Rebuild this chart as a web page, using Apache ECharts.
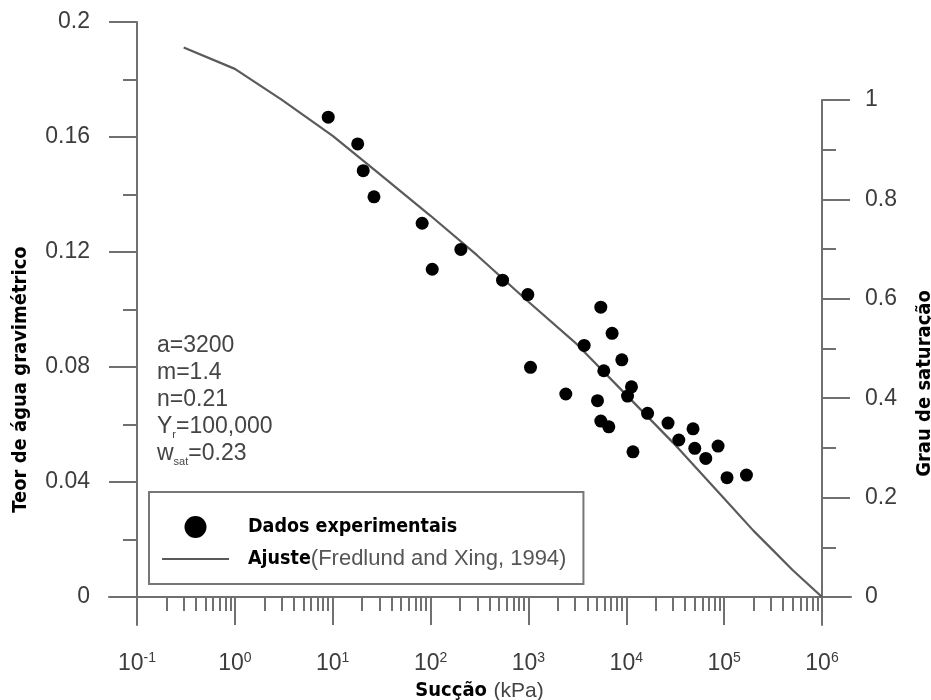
<!DOCTYPE html>
<html>
<head>
<meta charset="utf-8">
<title>Curva característica</title>
<script src="https://cdn.jsdelivr.net/npm/echarts@6/dist/echarts.min.js"></script>
<style>
  html, body { margin: 0; padding: 0; background: #fff; }
  #chart { width: 931px; height: 700px; }
</style>
</head>
<body>
<div id="chart"></div>
<script>
// Experimental points: suction (kPa) and gravimetric water content
const psiData = [9.0, 18, 20.5, 26.4, 82, 204, 104, 544, 986, 5490, 7160, 3710, 1050, 9000, 5890,
  11300, 10300, 2410, 5080, 16500, 5490, 6630, 26700, 48100, 34400, 50100, 86700, 64900, 11700,
  107000, 169000];
const wData = [0.1669, 0.1576, 0.1483, 0.1392, 0.1300, 0.1209, 0.1140, 0.1102, 0.1052, 0.1008,
  0.0917, 0.0875, 0.0799, 0.0825, 0.0787, 0.0731, 0.0699, 0.0706, 0.0683, 0.0639, 0.0612, 0.0592,
  0.0605, 0.0585, 0.0546, 0.0517, 0.0525, 0.0482, 0.0505, 0.0415, 0.0424];

// Fitted curve (Fredlund and Xing, 1994)
const psiCurve = [0.3, 1, 3, 10, 30, 100, 300, 1000, 3000, 10000, 30000, 100000, 200000, 300000, 500000, 1000000];
const wCurve = [0.1911, 0.1837, 0.1730, 0.1604, 0.1472, 0.1326, 0.1188, 0.1027, 0.0885, 0.0703,
  0.0537, 0.0343, 0.0230, 0.0170, 0.0094, 0];

// Axis ranges and ticks
const xMin = 0.1, xMax = 1e6;
const wMin = 0, wMax = 0.2, wStep = 0.04;
const srMin = 0, srMax = 1, srStep = 0.2;
const minorFactors = [2, 3, 4, 5, 6, 7, 8, 9];

// Fit parameters shown on the plot
const fitLines = ['a=3200', 'm=1.4', 'n=0.21'];

const minorLogTicks = [];
for (let e = Math.log10(xMin); e < Math.log10(xMax); e++) {
  minorFactors.forEach(f => minorLogTicks.push(e + Math.log10(f)));
}

const AX = '#707070';
const LBL = '#3c3c3c';
const NARROW = "'DejaVu Sans Condensed', 'Liberation Sans Narrow', sans-serif";
const SANS = "'Liberation Sans', Arial, sans-serif";
const lineStyle = { color: AX, width: 2 };
const noLine = { show: false, onZero: false };

// fixed plot boxes; labels and names may sit outside them
const box = (left, right, top, bottom) => ({ left, right, top, bottom, outerBoundsMode: 'none', containLabel: false });

const chart = echarts.init(document.getElementById('chart'), null, { renderer: 'canvas' });

const option = {
  backgroundColor: '#fff',
  animation: false,
  grid: [
    box(137, 109, 22, 103),   // 0 data
    box(137, 109, 100, 103),  // 1 saturation scale
    box(109, 80, 22, 103),    // 2 x axis line
    box(137, 109, 22, 75),    // 3 left axis line
    box(137, 109, 100, 75)    // 4 right axis line
  ],
  title: {
    left: 157, top: 332, padding: 0,
    text: fitLines.map(t => '{t|' + t + '}').join('\n') +
      '\n{t|Y}{s|r}{t|=100,000}\n{t|w}{s|sat}{t|=0.23}',
    textStyle: {
      fontFamily: SANS, fontSize: 23, fontWeight: 'normal', color: '#444',
      rich: {
        t: { fontFamily: SANS, fontSize: 23, lineHeight: 27, color: '#444' },
        s: { fontFamily: SANS, fontSize: 11, lineHeight: 12, color: '#444', verticalAlign: 'bottom' }
      }
    }
  },
  legend: {
    orient: 'vertical', left: 149, top: 492,
    padding: [24, 17, 14, 12],
    itemWidth: 67, itemHeight: 22, itemGap: 10,
    borderColor: '#777', borderWidth: 2,
    data: [
      { name: 'Dados experimentais', icon: 'circle' },
      { name: 'Ajuste', itemStyle: { color: 'rgba(0,0,0,0)', borderColor: 'rgba(0,0,0,0)', borderWidth: 0 } }
    ],
    formatter: name => name === 'Ajuste'
      ? '{b|Ajuste}{r|(Fredlund and Xing, 1994)}'
      : '{b|' + name + '}',
    textStyle: {
      fontSize: 22,
      rich: {
        b: { fontFamily: NARROW, fontWeight: 'bold', fontSize: 19.5, color: '#000', padding: [0, 0, 0, 14] },
        r: { fontFamily: SANS, fontSize: 22, color: '#555' }
      }
    }
  },
  xAxis: [
    {
      type: 'log', logBase: 10, min: xMin, max: xMax, gridIndex: 0, position: 'bottom',
      axisLine: noLine,
      axisTick: { show: true, inside: false, length: 28, lineStyle },
      splitLine: { show: false },
      axisLabel: {
        margin: 54,
        formatter: v => '{b|10}{e|' + Math.round(Math.log10(v)) + '}',
        rich: {
          b: { fontFamily: SANS, fontSize: 23, lineHeight: 26, color: LBL },
          e: { fontFamily: SANS, fontSize: 14, lineHeight: 14, color: LBL, verticalAlign: 'top' }
        }
      },
      name: '{b|Sucção}  {r|(kPa)}',
      nameLocation: 'middle', nameGap: 83,
      nameTextStyle: {
        rich: {
          b: { fontFamily: NARROW, fontWeight: 'bold', fontSize: 20, color: '#000' },
          r: { fontFamily: SANS, fontSize: 21, color: '#444' }
        }
      }
    },
    {
      // decade subdivisions, placed in log10 units
      type: 'value', min: Math.log10(xMin), max: Math.log10(xMax), gridIndex: 0, position: 'bottom',
      axisLine: noLine,
      axisLabel: { show: false },
      splitLine: { show: false },
      axisTick: { show: true, inside: false, length: 14, lineStyle, customValues: minorLogTicks }
    },
    { type: 'value', gridIndex: 1, show: false, axisLine: noLine },
    {
      type: 'value', gridIndex: 2, position: 'bottom',
      axisLine: { show: true, onZero: false, lineStyle },
      axisTick: { show: false }, axisLabel: { show: false }, splitLine: { show: false }
    },
    { type: 'value', gridIndex: 3, show: false, axisLine: noLine },
    { type: 'value', gridIndex: 4, show: false, axisLine: noLine }
  ],
  yAxis: [
    {
      type: 'value', min: wMin, max: wMax, interval: wStep, gridIndex: 0, position: 'left',
      axisLine: noLine,
      axisTick: { show: true, inside: false, length: 28, lineStyle },
      minorTick: { show: true, splitNumber: 2, length: 14, lineStyle },
      splitLine: { show: false },
      axisLabel: { margin: 47, fontFamily: SANS, fontSize: 23, color: LBL },
      name: 'Teor de água gravimétrico',
      nameLocation: 'middle', nameRotate: 90, nameGap: 106,
      nameTextStyle: {
        fontFamily: NARROW, fontWeight: 'bold', fontSize: 20, color: '#000',
        padding: [0, 140, 0, 0]
      }
    },
    {
      type: 'value', min: srMin, max: srMax, interval: srStep, gridIndex: 1, position: 'right',
      axisLine: noLine,
      axisTick: { show: true, inside: false, length: 28, lineStyle },
      minorTick: { show: true, splitNumber: 2, length: 14, lineStyle },
      splitLine: { show: false },
      axisLabel: { margin: 43, fontFamily: SANS, fontSize: 23, color: LBL },
      name: 'Grau de saturação',
      nameLocation: 'middle', nameRotate: 90, nameGap: 93,
      nameTextStyle: {
        fontFamily: NARROW, fontWeight: 'bold', fontSize: 20, color: '#000',
        padding: [0, 70, 0, 0]
      }
    },
    { type: 'value', gridIndex: 2, show: false, axisLine: noLine },
    {
      type: 'value', gridIndex: 3, position: 'left',
      axisLine: { show: true, onZero: false, lineStyle },
      axisTick: { show: false }, axisLabel: { show: false }, splitLine: { show: false }
    },
    {
      type: 'value', gridIndex: 4, position: 'right',
      axisLine: { show: true, onZero: false, lineStyle },
      axisTick: { show: false }, axisLabel: { show: false }, splitLine: { show: false }
    }
  ],
  series: [
    {
      name: 'Dados experimentais', type: 'scatter', xAxisIndex: 0, yAxisIndex: 0,
      symbol: 'circle', symbolSize: 13,
      itemStyle: { color: '#000', opacity: 1 },
      data: psiData.map((p, i) => [p, wData[i]]),
      z: 3
    },
    {
      name: 'Ajuste', type: 'line', xAxisIndex: 0, yAxisIndex: 0,
      showSymbol: false, symbol: 'none', smooth: false,
      lineStyle: { color: '#5a5a5a', width: 2.2 },
      itemStyle: { color: '#5a5a5a' },
      data: psiCurve.map((p, i) => [p, wCurve[i]]),
      z: 2
    }
  ]
};

chart.setOption(option);
</script>
</body>
</html>
